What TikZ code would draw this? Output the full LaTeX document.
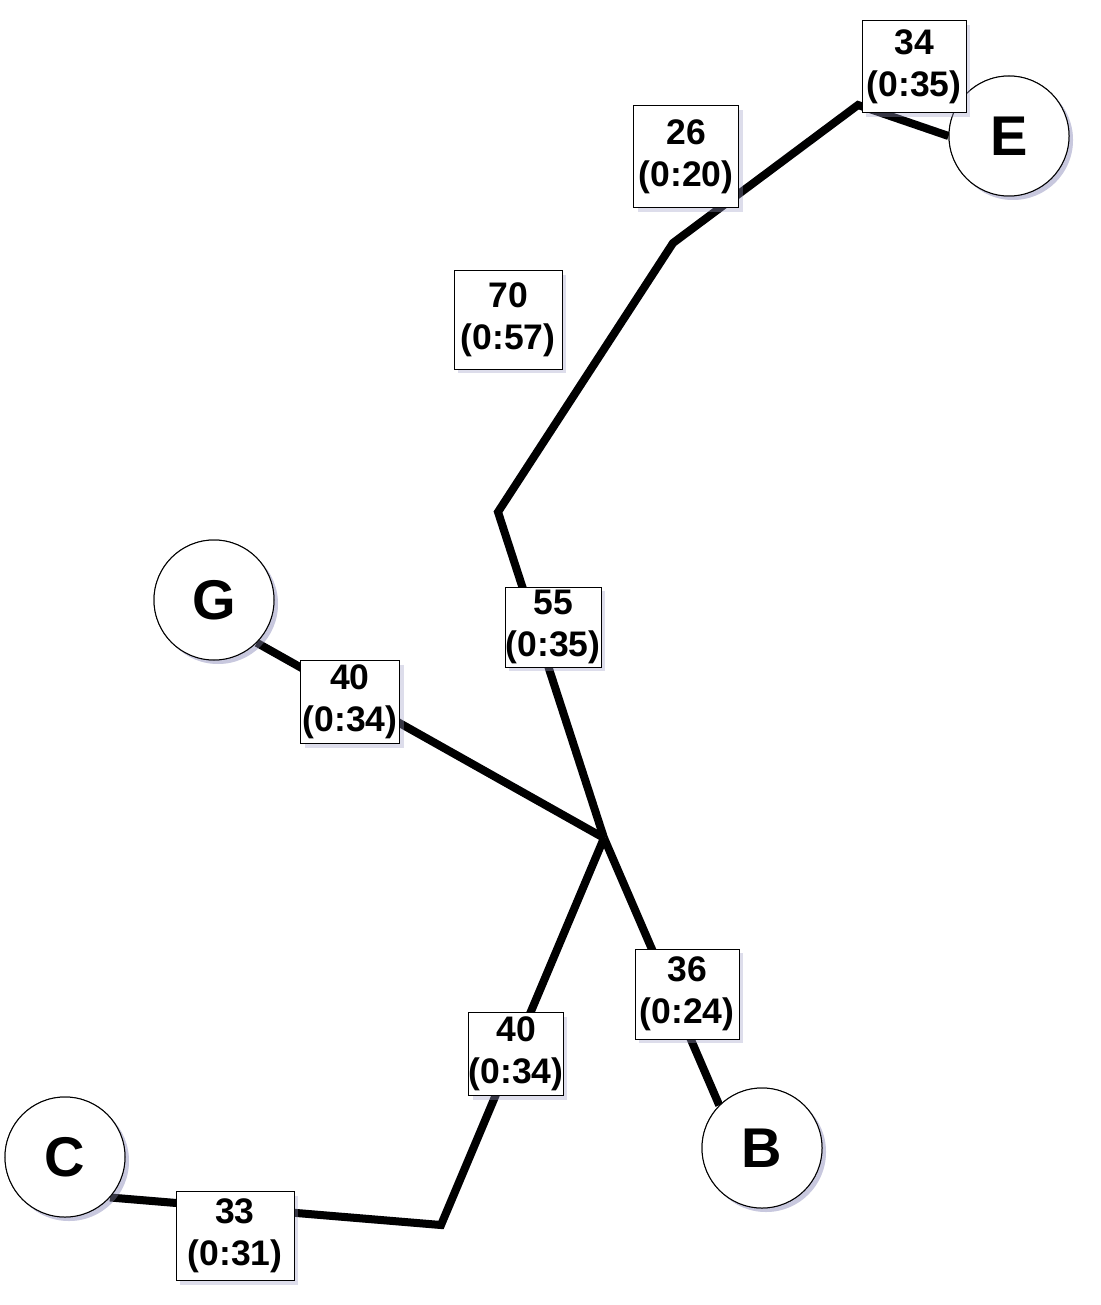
\documentclass[tikz,border=0pt]{standalone}
\usepackage{fontspec}
\setmainfont{Liberation Sans}
\usetikzlibrary{shadows}
\tikzset{
  shd/.style={drop shadow={opacity=0.35, fill=blue!25!gray!60, shadow xshift=4pt, shadow yshift=-4pt}},
  lbl/.style={draw=black, line width=1pt, fill=white, inner sep=0pt, align=center, shd,
    font=\fontsize{35.5}{42}\selectfont\bfseries},
  vert/.style={circle, draw=black, line width=1pt, fill=white, minimum size=120pt, inner sep=0pt, shd,
    font=\fontsize{56}{56}\selectfont\bfseries},
  edge/.style={line width=8pt, black, line join=miter},
  edgeshd/.style={line width=8pt, blue!25!gray!40, opacity=0.5}
}
\begin{document}
\begin{tikzpicture}[x=1pt,y=-1pt]
\useasboundingbox (0,0) rectangle (1100,1305);
% vertices
\node[vert] (E) at (1009,136) {E};
\node[vert] (G) at (214,600) {G};
\node[vert] (C) at (65,1157) {C};
\node[vert] (B) at (762,1148) {B};
% internal points
\coordinate (X) at (858,105);
\coordinate (Y) at (673,243);
\coordinate (Z) at (498,512);
\coordinate (J) at (604,838);
\coordinate (W) at (441,1225);
% edge shadows
\draw[edgeshd, shift={(3,3)}] (E.180) -- (X) -- (Y) -- (Z) -- (J);
\draw[edgeshd, shift={(3,3)}] (G.-45) -- (J);
\draw[edgeshd, shift={(3,3)}] (J) -- (B.135);
\draw[edgeshd, shift={(3,3)}] (J) -- (W) -- (C.-42);
% edges
\draw[edge] (E.180) -- (X) -- (Y) -- (Z) -- (J);
\draw[edge] (G.-45) -- (J);
\draw[edge] (J) -- (B.135);
\draw[edge] (J) -- (W) -- (C.-42);
% redraw vertices on top
\node[vert] at (E) {E};
\node[vert] at (G) {G};
\node[vert] at (C) {C};
\node[vert] at (B) {B};
% labels
\node[lbl, minimum width=104pt, minimum height=92pt] (l1) at (914,67) {34\\(0:35)};
\node[lbl, minimum width=105pt, minimum height=102pt] (l2) at (686,157) {26\\(0:20)};
\node[lbl, minimum width=108pt, minimum height=98pt] (l3) at (508,320) {70\\(0:57)};
\node[lbl, minimum width=96pt, minimum height=80pt] (l4) at (553,627) {55\\(0:35)};
\node[lbl, minimum width=99pt, minimum height=83pt] (l5) at (350,702) {40\\(0:34)};
\node[lbl, minimum width=94pt, minimum height=83pt] (l6) at (516,1054) {40\\(0:34)};
\node[lbl, minimum width=104pt, minimum height=90pt] (l7) at (687,994) {36\\(0:24)};
\node[lbl, minimum width=118pt, minimum height=89pt] (l8) at (235,1236) {33\\(0:31)};
\end{tikzpicture}
\end{document}
